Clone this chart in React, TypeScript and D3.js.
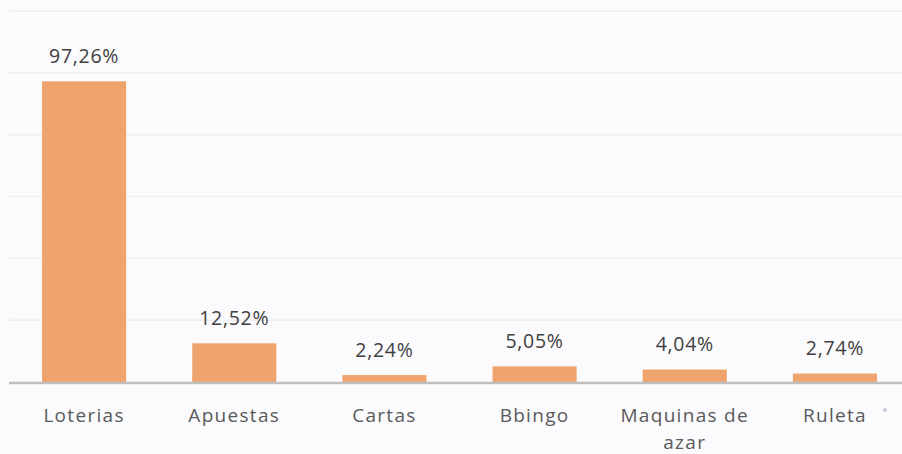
import React from "react";
import * as d3 from "d3";

const categories = ["Loterias", "Apuestas", "Cartas", "Bbingo", "Maquinas de azar", "Ruleta"];
const values = [97.26, 12.52, 2.24, 5.05, 4.04, 2.74];
const valueLabels = ["97,26%", "12,52%", "2,24%", "5,05%", "4,04%", "2,74%"];
const gridTicks = [20, 40, 60, 80, 100, 120];

const width = 902,
  height = 454;

// split long category names over two lines like the original
const wrap = (s: string) => (s === "Maquinas de azar" ? ["Maquinas de", "azar"] : [s]);

export default function App() {
  const x = d3.scaleBand().domain(categories).range([9, 910]).paddingInner(0.44).paddingOuter(0.22);
  const y = d3.scaleLinear().domain([0, 120]).range([382, 11]);

  const font = "'Open Sans', 'Noto Sans', sans-serif";

  return (
    <svg
      width={width}
      height={height}
      style={{ position: "absolute", left: 0, top: 0, background: "#fbfbfd" }}
    >
      <rect x={0} y={0} width={width} height={height} fill="#fbfbfd" />
      {/* horizontal grid */}
      <g>
        {gridTicks.map((t) => (
          <line key={t} x1={9} x2={902} y1={y(t)} y2={y(t)} stroke="#eeeef1" strokeWidth={1.5} />
        ))}
      </g>
      {/* bars */}
      <g>
        {values.map((v, i) => (
          <rect
            key={categories[i]}
            x={x(categories[i])}
            y={y(v)}
            width={x.bandwidth()}
            height={y(0) - y(v)}
            fill="#f0a46d"
          />
        ))}
      </g>
      {/* baseline */}
      <line x1={9} x2={902} y1={y(0) + 1} y2={y(0) + 1} stroke="#bfbfbf" strokeWidth={2.5} />
      {/* value labels */}
      <g fontFamily={font} fontSize={19.5} fill="#404040" textAnchor="middle" letterSpacing={0.7}>
        {values.map((v, i) => (
          <text key={"v" + i} x={(x(categories[i]) as number) + x.bandwidth() / 2} y={y(v) - 18.5}>
            {valueLabels[i]}
          </text>
        ))}
      </g>
      {/* category labels */}
      <g fontFamily={font} fontSize={19} fill="#595959" textAnchor="middle" letterSpacing={1.3}>
        {categories.map((c, i) => (
          <text key={"c" + i} x={(x(c) as number) + x.bandwidth() / 2} y={422}>
            {wrap(c).map((line, j) => (
              <tspan key={j} x={(x(c) as number) + x.bandwidth() / 2} dy={j === 0 ? 0 : 27}>
                {line}
              </tspan>
            ))}
          </text>
        ))}
      </g>
      <circle cx={885} cy={410} r={2} fill="#b8b4d8" opacity={0.7} />
    </svg>
  );
}
